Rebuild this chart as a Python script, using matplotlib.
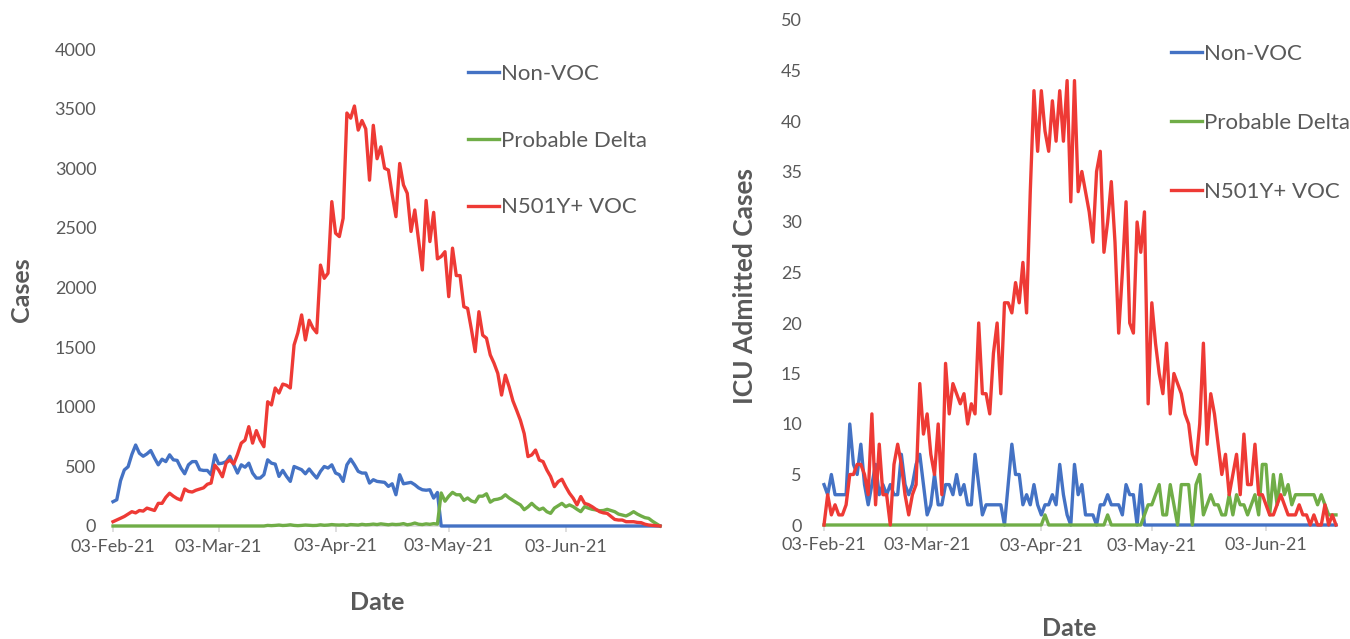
import numpy as np
import pandas as pd
import matplotlib
matplotlib.use("Agg")
import matplotlib.pyplot as plt
import matplotlib.dates as mdates


# colours / style
BLUE = "#4472C4"
GREEN = "#70AD47"
RED = "#EE3A35"
TEXT = "#595959"
AXIS = "#D9D9D9"

plt.rcParams["font.family"] = ["Lato", "DejaVu Sans"]

# ------------------------------------------------------------
# Left panel: daily cases (03-Feb-21 .. 28-Jun-21)
# ------------------------------------------------------------
cases_dates = pd.date_range("2021-02-03", periods=146, freq="D")

cases_non_voc = [
    204, 220, 380, 470, 497, 600, 679, 610, 585, 605,
    633, 570, 513, 560, 540, 597, 555, 550, 486, 438,
    513, 540, 540, 472, 466, 466, 430, 597, 522, 527,
    540, 585, 513, 444, 513, 493, 527, 444, 402, 402,
    430, 555, 527, 519, 416, 466, 416, 374, 499, 486,
    472, 438, 478, 438, 402, 458, 499, 486, 513, 444,
    430, 374, 513, 561, 513, 458, 444, 444, 360, 388,
    374, 370, 366, 332, 354, 262, 430, 354, 360, 366,
    346, 320, 304, 300, 304, 234, 281,
] + [0] * 59

cases_delta = [0] * 40 + [
    0, 5, 3, 5, 8, 4, 6, 10, 5, 3,
    5, 8, 6, 4, 5, 10, 6, 8, 12, 9,
    8, 10, 6, 12, 10, 8, 14, 10, 12, 16,
    12, 18, 14, 10, 15, 12, 14, 20, 10, 15,
    25, 15, 12, 18, 14, 20, 16,
    277, 208, 250, 282, 262, 262, 215, 235, 210, 200,
    250, 250, 270, 200, 220, 225, 235, 262, 235, 215,
    195, 177, 137, 160, 190, 160, 137, 150, 120, 106,
    150, 170, 190, 162, 177, 162, 140, 120, 162, 150,
    140, 135, 128, 130, 140, 130, 120, 100, 92, 84,
    100, 120, 100, 84, 70, 64, 40, 20, 0,
]

cases_n501y = [
    36, 50, 65, 80, 100, 120, 110, 130, 125, 150,
    140, 130, 190, 190, 240, 275, 250, 230, 218, 310,
    290, 285, 300, 310, 320, 350, 360, 510, 470, 413,
    530, 553, 520, 600, 695, 720, 833, 695, 800, 720,
    665, 1042, 1015, 1157, 1115, 1190, 1180, 1157, 1518, 1620,
    1770, 1560, 1725, 1660, 1620, 2188, 2077, 2120, 2720, 2455,
    2427, 2580, 3463, 3420, 3522, 3320, 3400, 3330, 2900, 3360,
    3080, 3180, 3000, 2985, 2780, 2594, 3040, 2860, 2790, 2470,
    2650, 2400, 2147, 2730, 2385, 2630, 2240, 2260, 2300, 1923,
    2330, 2100, 2100, 1839, 1825, 1650, 1462, 1797, 1600, 1575,
    1435, 1365, 1280, 1098, 1265, 1167, 1050, 970, 886, 775,
    582, 596, 637, 553, 540, 470, 415, 330, 372, 392,
    330, 275, 233, 177, 247, 190, 180, 162, 140, 120,
    110, 106, 80, 55, 50, 50, 36, 36, 36, 30,
    28, 15, 8, 5, 2, 0,
]

# ------------------------------------------------------------
# Right panel: ICU admitted cases (03-Feb-21 .. 22-Jun-21)
# ------------------------------------------------------------
icu_dates = pd.date_range("2021-02-03", periods=140, freq="D")

icu_non_voc = [
    4, 3, 5, 3, 3, 3, 3, 10, 6, 5,
    8, 4, 2, 4, 6, 3, 4, 3, 4, 3,
    3, 7, 4, 3, 4, 6, 7, 4, 1, 2,
    5, 2, 2, 4, 4, 3, 5, 3, 4, 2,
    2, 7, 4, 1, 2, 2, 2, 2, 2, 0,
    4, 8, 5, 5, 2, 3, 2, 4, 2, 1,
    2, 2, 3, 2, 6, 3, 1, 0, 6,
    3, 4, 1, 1, 1, 0, 2, 2, 3, 2,
    2, 2, 1, 4, 3, 3, 0, 4, 0,
] + [0] * 52

icu_delta = [0] * 60 + [1] + [0] * 16 + [1] + [0] * 8 + [
    0, 1, 2, 2, 3, 4, 1, 1, 4, 2,
    0, 4, 4, 4, 0, 4, 5, 1, 2, 3,
    2, 2, 1, 1, 3, 1, 3, 2, 2, 1,
    2, 3, 1, 6, 6, 1, 5, 2, 5, 3,
    4, 2, 3, 3, 3, 3, 3, 3, 2, 3,
    2, 1, 1, 1,
]

icu_n501y = [
    0, 3, 1, 2, 1, 1, 2, 5, 5, 6,
    6, 5, 3, 11, 2, 8, 3, 3, 0, 6,
    8, 6, 3, 1, 3, 4, 14, 9, 11, 7,
    5, 10, 3, 16, 11, 14, 13, 12, 13, 10,
    12, 11, 20, 13, 13, 11, 17, 20, 13, 22,
    22, 21, 24, 22, 26, 21, 33, 43, 37, 43,
    39, 37, 42, 38, 43, 38, 44, 32,
    44, 33, 35, 33, 31, 28, 35, 37, 27, 30,
    34, 28, 19, 25, 32, 20, 19, 30, 27, 31,
    12, 22, 18, 15, 13, 18, 11, 15, 14, 13,
    11, 10, 7, 6, 10, 18, 8, 13, 11, 8,
    5, 7, 3, 5, 7, 3, 9, 4, 4, 8,
    3, 3, 2, 1, 1, 2, 3, 2, 1, 1,
    1, 2, 1, 1, 0, 1, 0, 0, 2, 0,
    1, 0,
]

series_labels = ["Non-VOC", "Probable Delta", "N501Y+ VOC"]
series_colors = [BLUE, GREEN, RED]
date_ticks = pd.to_datetime(["2021-02-03", "2021-03-03", "2021-04-03",
                             "2021-05-03", "2021-06-03"])


def style_axes(ax, dates, ymax, ystep, ypad):
    ax.set_xlim(dates[0], dates[-1])
    ax.set_ylim(0, ymax)
    ax.set_yticks(np.arange(0, ymax + 1, ystep))
    ax.set_xticks(date_ticks)
    ax.xaxis.set_major_formatter(mdates.DateFormatter("%d-%b-%y"))
    for side in ["top", "right", "left"]:
        ax.spines[side].set_visible(False)
    ax.spines["bottom"].set_color(AXIS)
    ax.spines["bottom"].set_linewidth(1.2)
    ax.tick_params(axis="x", colors=AXIS, length=4, width=1.2, pad=5,
                   labelcolor=TEXT, labelsize=13)
    ax.tick_params(axis="y", length=0, pad=ypad, labelcolor=TEXT,
                   labelsize=13)


fig = plt.figure(figsize=(13.5, 6.39), dpi=100)

ax1 = fig.add_axes([113 / 1350, 1 - 526 / 639, 547 / 1350, 477 / 639])
ax2 = fig.add_axes([824 / 1350, 1 - 525 / 639, 512 / 1350, 505 / 639])

for ys, lab, col in zip([cases_non_voc, cases_delta, cases_n501y],
                        series_labels, series_colors):
    ax1.plot(cases_dates, ys, color=col, lw=2.4, label=lab, zorder=3,
             solid_joinstyle="round", clip_on=False)

for ys, lab, col in zip([icu_non_voc, icu_delta, icu_n501y],
                        series_labels, series_colors):
    ax2.plot(icu_dates, ys, color=col, lw=2.4, label=lab, zorder=3,
             solid_joinstyle="round", clip_on=False)

style_axes(ax1, cases_dates, 4000, 500, 12)
style_axes(ax2, icu_dates, 50, 5, 16)

for ax, anchor, spacing in [(ax1, (468 / 1350, 1 - 64 / 639), 2.1),
                            (ax2, (1171 / 1350, 1 - 44 / 639), 2.2)]:
    leg = ax.legend(loc="upper left", bbox_to_anchor=anchor,
                    bbox_transform=fig.transFigure, frameon=False,
                    fontsize=16, handlelength=1.4, handletextpad=0.1,
                    labelspacing=spacing, borderpad=0, borderaxespad=0)
    for t in leg.get_texts():
        t.set_color(TEXT)

# axis titles
fig.text(22 / 1350, 1 - 290 / 639, "Cases", rotation=90, ha="center",
         va="center", fontsize=18, fontweight="bold", color=TEXT)
fig.text(745 / 1350, 1 - 286 / 639, "ICU Admitted Cases", rotation=90,
         ha="center", va="center", fontsize=19, fontweight="bold", color=TEXT)
fig.text(377 / 1350, 1 - 603 / 639, "Date", ha="center", va="center",
         fontsize=18, fontweight="bold", color=TEXT)
fig.text(1069 / 1350, 1 - 628 / 639, "Date", ha="center", va="center",
         fontsize=18, fontweight="bold", color=TEXT)

fig.savefig("out.png", dpi=100)
